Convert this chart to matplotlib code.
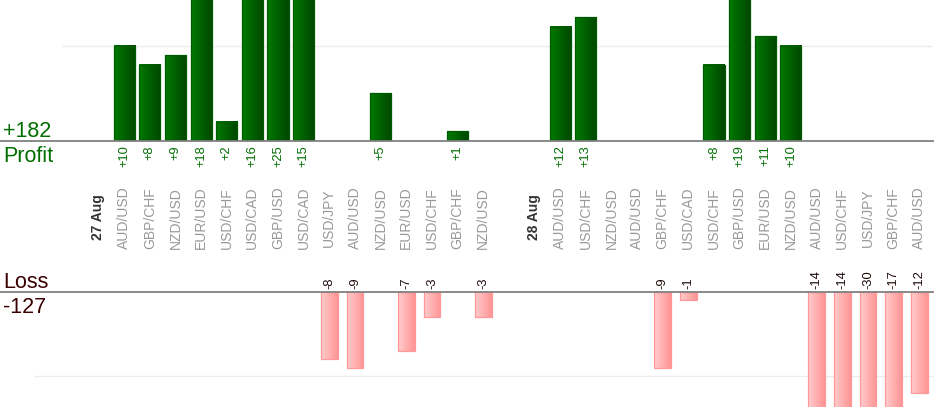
import matplotlib
matplotlib.use("Agg")
import matplotlib.pyplot as plt
import numpy as np
from matplotlib.colors import LinearSegmentedColormap
from matplotlib.lines import Line2D
from matplotlib.transforms import blended_transform_factory

plt.rcParams['font.family'] = ['Liberation Sans', 'DejaVu Sans']

# one slot per trade, empty slots and date markers included
labels = ["", "27 Aug",
          "AUD/USD", "GBP/CHF", "NZD/USD", "EUR/USD", "USD/CHF", "USD/CAD", "GBP/USD", "USD/CAD",
          "USD/JPY", "AUD/USD", "NZD/USD", "EUR/USD", "USD/CHF", "GBP/CHF", "NZD/USD",
          "", "28 Aug",
          "AUD/USD", "USD/CHF", "NZD/USD", "AUD/USD", "GBP/CHF", "USD/CAD", "USD/CHF", "GBP/USD",
          "EUR/USD", "NZD/USD", "AUD/USD", "USD/CHF", "USD/JPY", "GBP/CHF", "AUD/USD"]
results = [None, None,
           10, 8, 9, 18, 2, 16, 25, 15,
           -8, -9, 5, -7, -3, 1, -3,
           None, None,
           12, 13, None, None, -9, -1, 8, 19,
           11, 10, -14, -14, -30, -17, -12]
date_slots = [1, 18]

GREEN = '#006e00'
MAROON = '#3a0000'

W, H = 934, 420
fig = plt.figure(figsize=(W / 100, H / 100), dpi=100)


def fx(px):
    return px / W


def fy(py):
    return 1 - py / H


ax_p = fig.add_axes([fx(60), fy(141), fx(872), 141 / H])
ax_l = fig.add_axes([fx(60), fy(407), fx(872), 115 / H])


def gradient_bars(ax, xs, heights, width, c_left, c_right, edge):
    cmap = LinearSegmentedColormap.from_list('grad', [c_left, c_right])
    grad = np.linspace(0, 1, 64).reshape(1, -1)
    bars = ax.bar(xs, heights, width=width, color=c_left, linewidth=0, zorder=2)
    for b in bars:
        x0, y0 = b.get_x(), b.get_y()
        x1, y1 = x0 + b.get_width(), y0 + b.get_height()
        # image sits exactly on the bar and stays clipped to the axes
        ax.imshow(grad, cmap=cmap, extent=(x0, x1, min(y0, y1), max(y0, y1)),
                  aspect='auto', interpolation='bilinear', zorder=2.5)
    ax.bar(xs, heights, width=width, fill=False, edgecolor=edge, linewidth=0.9, zorder=3)


win_x = [i for i, v in enumerate(results) if v is not None and v > 0]
win_v = [results[i] for i in win_x]
loss_x = [i for i, v in enumerate(results) if v is not None and v < 0]
loss_v = [results[i] for i in loss_x]

gradient_bars(ax_p, win_x, win_v, 0.82, '#007a00', '#004600', '#005a00')
gradient_bars(ax_l, loss_x, loss_v, 0.65, '#ffcccc', '#ff9494', '#ff9999')

for ax, ylim in ((ax_p, (0, 14.84)), (ax_l, (-13.66, 0))):
    ax.set_xlim(-0.5, len(labels) - 0.5)
    ax.set_ylim(*ylim)
    ax.axis('off')

ax_p.axhline(10, xmin=3 / 872, xmax=1, color='#ececec', lw=1, zorder=0)
ax_l.axhline(-10, xmin=-25 / 872, xmax=1, color='#ececec', lw=1, zorder=0, clip_on=False)

# baselines across the full width
for py in (141, 292):
    fig.add_artist(Line2D([0, 1], [fy(py), fy(py)], transform=fig.transFigure,
                          color='#808080', lw=1.3))

for i, v in zip(win_x, win_v):
    ax_p.annotate(f"+{v}", (i, 0), xytext=(0, -3), textcoords='offset points',
                  rotation=90, ha='center', va='top', fontsize=9.3, color=GREEN,
                  annotation_clip=False)
for i, v in zip(loss_x, loss_v):
    ax_l.annotate(f"{v}", (i, 0), xytext=(0, 2.5), textcoords='offset points',
                  rotation=90, ha='center', va='bottom', fontsize=9.3, color='#1e0a0a',
                  annotation_clip=False)

tr = blended_transform_factory(ax_p.transData, fig.transFigure)
for i, lab in enumerate(labels):
    if not lab:
        continue
    if i in date_slots:
        ax_p.text(i, fy(217), lab, transform=tr, rotation=90, ha='center', va='center',
                  fontsize=10, fontweight='bold', color='#333333')
    else:
        ax_p.text(i, fy(218), lab, transform=tr, rotation=90, ha='center', va='center',
                  fontsize=10, color='#999999')

total_win = sum(win_v)
total_loss = sum(loss_v)
fig.text(fx(3), fy(137), f"+{total_win}", fontsize=15.5, color=GREEN, va='baseline')
fig.text(fx(3), fy(162), "Profit", fontsize=15.5, color=GREEN, va='baseline')
fig.text(fx(3), fy(288), "Loss", fontsize=15.5, color=MAROON, va='baseline')
fig.text(fx(3), fy(313), f"{total_loss}", fontsize=15.5, color=MAROON, va='baseline')

fig.savefig("out.png", dpi=100)
